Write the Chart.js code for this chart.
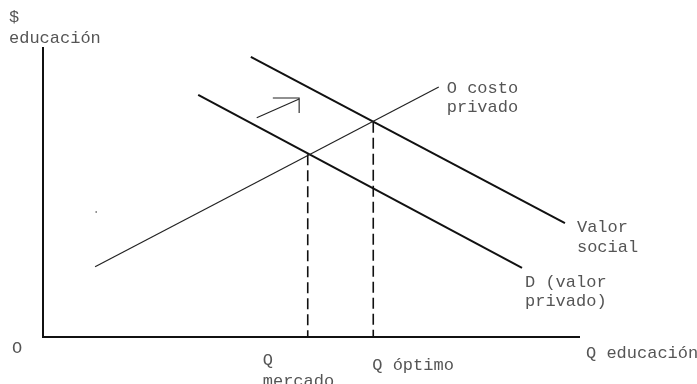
<!DOCTYPE html>
<html>
<head>
<meta charset="utf-8">
<script src="https://cdn.jsdelivr.net/npm/chart.js@4.4.1/dist/chart.umd.min.js"></script>
<style>
  html, body { margin: 0; padding: 0; background: #ffffff; }
  #wrap { width: 697px; height: 384px; position: relative; }
</style>
</head>
<body>
<div id="wrap"><canvas id="c" width="697" height="384"></canvas></div>
<script>
// ---- Data (Q educación on x, $ educación on y; axis range 0..10) ----
const axisPoints       = [{x: 0, y: 10}, {x: 0, y: 0}, {x: 10, y: 0}];
const costoPrivado     = [{x: 0.97, y: 2.42}, {x: 7.37, y: 8.62}];   // O costo privado (oferta)
const valorPrivado     = [{x: 2.89, y: 8.35}, {x: 8.92, y: 2.38}];   // D (valor privado)
const valorSocial      = [{x: 3.87, y: 9.66}, {x: 9.72, y: 3.93}];   // Valor social
const qMercado         = [{x: 4.93, y: 6.30}, {x: 4.93, y: 0}];
const qOptimo          = [{x: 6.15, y: 7.42}, {x: 6.15, y: 0}];
const shiftArrow       = [{x: 3.98, y: 7.56}, {x: 4.77, y: 8.21}];
const shiftArrowHead   = [{x: 4.28, y: 8.24}, {x: 4.77, y: 8.24}, {x: 4.77, y: 7.72}];
const strayDot         = [{x: 0.99, y: 4.31}];

// Text labels anchored in data units
const labelTexts = {
  yUnit: "$", yName: "educación", origin: "O",
  xName: "Q educación",
  qm1: "Q", qm2: "mercado", qo: "Q óptimo",
  s1: "O costo", s2: "privado",
  vs1: "Valor", vs2: "social",
  d1: "D (valor", d2: "privado)"
};

const ink = '#111111';
const textInk = '#555555';

const labelPlugin = {
  id: 'labels',
  afterDatasetsDraw(chart) {
    const {ctx, scales: {x, y}} = chart;
    const L = labelTexts;
    // [text, data x, data y, dx px, dy px]  (left aligned, alphabetic baseline)
    const items = [
      [L.yUnit, 0, 10, -34, -25],
      [L.yName, 0, 10, -34, -4],
      [L.origin, 0, 0, -31, 16],
      [L.xName, 10, 0, 6, 21],
      [L.qm1, 4.93, 0, -45, 28],
      [L.qm2, 4.93, 0, -45, 49],
      [L.qo, 6.15, 0, -1, 33],
      [L.s1, 7.37, 8.62, 8, 6],
      [L.s2, 7.37, 8.62, 8, 25],
      [L.vs1, 9.72, 3.93, 12, 9],
      [L.vs2, 9.72, 3.93, 12, 29],
      [L.d1, 8.92, 2.38, 3, 19],
      [L.d2, 8.92, 2.38, 3, 38]
    ];
    ctx.save();
    ctx.font = '17px "Liberation Mono", monospace';
    ctx.fillStyle = textInk;
    ctx.textAlign = 'left';
    ctx.textBaseline = 'alphabetic';
    for (const [t, vx, vy, dx, dy] of items) {
      ctx.fillText(t, x.getPixelForValue(vx) + dx, y.getPixelForValue(vy) + dy);
    }
    ctx.restore();
  }
};

const lineDs = (data, width, extra = {}) => Object.assign({
  data, showLine: true, borderColor: ink, borderWidth: width,
  pointRadius: 0, fill: false, tension: 0
}, extra);

new Chart(document.getElementById('c'), {
  type: 'scatter',
  data: {
    datasets: [
      lineDs(axisPoints, 2),
      lineDs(costoPrivado, 1.2, {borderColor: '#222'}),
      lineDs(valorPrivado, 2),
      lineDs(valorSocial, 2),
      lineDs(qMercado, 1.6, {borderDash: [11, 5]}),
      lineDs(qOptimo, 1.6, {borderDash: [11, 5]}),
      lineDs(shiftArrow, 1.1, {borderColor: '#222'}),
      lineDs(shiftArrowHead, 1.1, {borderColor: '#222'}),
      {data: strayDot, showLine: false, pointRadius: 0.8, pointBackgroundColor: '#333', pointBorderWidth: 0}
    ]
  },
  options: {
    responsive: false,
    animation: false,
    devicePixelRatio: 1,
    layout: { padding: { left: 43, right: 117, top: 47, bottom: 47 } },
    plugins: { legend: { display: false }, tooltip: { enabled: false } },
    scales: {
      x: { type: 'linear', min: 0, max: 10, display: false },
      y: { type: 'linear', min: 0, max: 10, display: false }
    },
    clip: false
  },
  plugins: [labelPlugin]
});
</script>
</body>
</html>
